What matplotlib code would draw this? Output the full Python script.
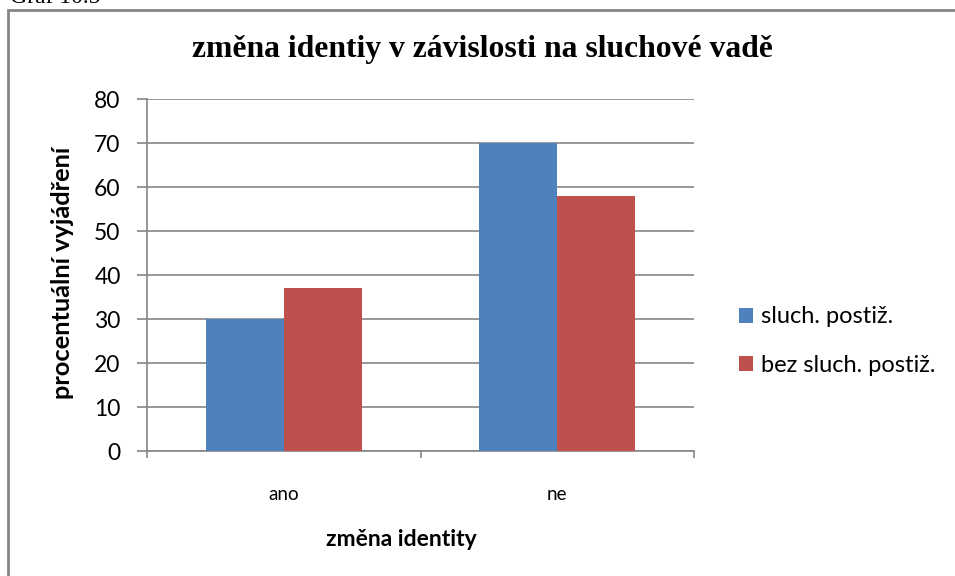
import numpy as np
import matplotlib
matplotlib.use("Agg")
import matplotlib.pyplot as plt
from matplotlib.patches import Rectangle

# data
categories = ["ano", "ne"]
series_names = ["sluch. postiž.", "bez sluch. postiž."]
sluch_postiz = [30, 70]
bez_sluch_postiz = [37, 58]
y_ticks = [0, 10, 20, 30, 40, 50, 60, 70, 80]

title = "změna identiy v závislosti na sluchové vadě"
xlabel = "změna identity"
ylabel = "procentuální vyjádření"

W, H = 955, 576
fig = plt.figure(figsize=(W / 100, H / 100), dpi=100)

sans = ["Lato", "DejaVu Sans"]
serif = ["Liberation Serif", "DejaVu Serif"]
grey = "#868686"
blue = "#4F81BD"
red = "#C0504D"

# chart border (left/top edges visible, rest runs off the picture)
fig.patches.append(Rectangle((8 / W, -0.1), 1.2, 1 - 10 / H + 0.1,
                             transform=fig.transFigure, fill=False,
                             edgecolor=grey, lw=2.0))
# caption cut off at the top of the page, as in the source
fig.text(10 / W, 1 - 3 / H, "Graf 10.5", family=serif, fontsize=17,
         va="baseline", ha="left", color="black")

ax = fig.add_axes([147 / W, 1 - 451 / H, (694 - 147) / W, (451 - 99) / H])

x = np.arange(len(categories))
w = 0.286
ax.bar(x - w / 2, sluch_postiz, w, color=blue, label=series_names[0], zorder=3)
ax.bar(x + w / 2, bez_sluch_postiz, w, color=red, label=series_names[1], zorder=3)

ax.set_xlim(-0.5, len(categories) - 0.5)
ax.set_ylim(0, 80)
ax.set_yticks(y_ticks)
ax.set_yticklabels([str(v) for v in y_ticks], family=sans, fontsize=16.5)
ax.yaxis.grid(True, color=grey, lw=1.2, zorder=0)
ax.set_axisbelow(True)

ax.set_xticks(x)
ax.set_xticklabels(categories, family=sans, fontsize=13.5)
ax.set_xticks(np.arange(len(categories) + 1) - 0.5, minor=True)
ax.tick_params(axis="x", which="major", length=0, pad=25)
ax.tick_params(axis="x", which="minor", length=5, width=1.2, color=grey)
ax.tick_params(axis="y", which="major", length=7, width=1.2, color=grey, pad=12)

for s in ["top", "right"]:
    ax.spines[s].set_visible(False)
for s in ["left", "bottom"]:
    ax.spines[s].set_color(grey)
    ax.spines[s].set_linewidth(1.2)

fig.text(482 / W, 1 - 50 / H, title, family=serif, fontsize=22.8,
         fontweight="bold", ha="center", va="center")
fig.text(401 / W, 1 - 539 / H, xlabel, family=sans, fontsize=16.5,
         fontweight="bold", ha="center", va="center")
fig.text(63 / W, 1 - 273 / H, ylabel, family=sans, fontsize=18.3,
         fontweight="bold", ha="center", va="center", rotation=90)

fig.legend(loc="center left", bbox_to_anchor=(727 / W, 1 - 341 / H),
           frameon=False, prop={"family": sans, "size": 17},
           handlelength=0.6, handleheight=0.6, handletextpad=0.35,
           labelspacing=1.15, borderpad=0)

fig.savefig("out.png", dpi=100)
